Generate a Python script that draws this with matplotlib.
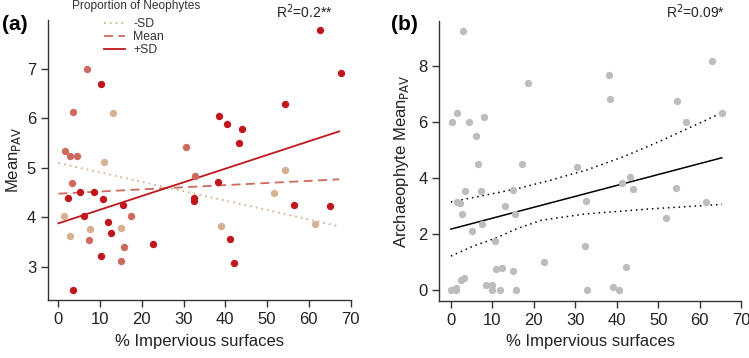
import numpy as np
import matplotlib
matplotlib.use("Agg")
import matplotlib.pyplot as plt

plt.rcParams['font.family'] = ['Liberation Sans', 'DejaVu Sans']

# panel (a): points grouped by neophyte proportion
low_x = [13.2, 11.0, 54.4, 1.3, 7.6, 15.0, 2.8, 39.0, 51.7, 61.4]
low_y = [6.12, 5.11, 4.96, 4.03, 3.76, 3.78, 3.63, 3.82, 4.50, 3.86]
mid_x = [1.6, 2.8, 4.5, 3.6, 6.8, 30.5, 32.8, 3.2, 17.4, 7.4, 15.8, 15.1]
mid_y = [5.34, 5.25, 5.24, 6.14, 7.00, 5.42, 4.83, 4.69, 4.02, 3.55, 3.40, 3.12]
high_x = [10.2, 38.5, 40.5, 44.1, 43.2, 54.2, 62.8, 67.6, 2.25, 5.2, 8.6, 10.8, 15.6,
          6.2, 11.9, 12.5, 22.7, 10.1, 3.6, 32.4, 32.6, 38.2, 41.1, 42.1, 56.5, 65.1]
high_y = [6.70, 6.06, 5.89, 5.78, 5.51, 6.30, 7.78, 6.92, 4.40, 4.51, 4.51, 4.37, 4.25,
          4.03, 3.90, 3.69, 3.47, 3.21, 2.53, 4.33, 4.39, 4.72, 3.56, 3.07, 4.25, 4.24]

# fitted lines (end points)
fit_x = [0, 67.3]
sd_minus = [5.10, 3.82]
sd_mean = [4.48, 4.77]
sd_plus = [3.88, 5.74]
r2_a = "R$^2$=0.2**"

# panel (b)
arch_x = [3.0, 1.4, 0.2, 4.3, 8.0, 6.0, 6.6, 17.2, 18.6, 30.4, 38.2, 38.4, 43.2, 54.4,
          56.7, 62.9, 65.3, 1.4, 2.1, 3.4, 7.3, 14.9, 13.0, 15.4, 2.7, 7.4, 5.0, 10.6,
          32.5, 32.3, 22.5, 10.9, 12.2, 15.0, 3.2, 2.4, 8.4, 9.8, 10.0, 11.8, 15.6, 0.0,
          1.2, 1.3, 41.2, 44.0, 54.2, 61.6, 51.8, 42.1, 39.0, 40.5, 32.7]
arch_y = [9.24, 6.32, 6.00, 6.00, 6.16, 5.49, 4.49, 4.49, 7.39, 4.40, 7.66, 6.83, 4.02, 6.75,
          6.00, 8.16, 6.32, 3.15, 3.10, 3.55, 3.55, 3.59, 3.00, 2.72, 2.72, 2.38, 2.11, 1.75,
          3.17, 1.58, 1.01, 0.75, 0.81, 0.68, 0.43, 0.37, 0.20, 0.20, 0.00, 0.00, 0.00, 0.00,
          0.10, 0.00, 3.81, 3.60, 3.64, 3.14, 2.56, 0.84, 0.13, 0.00, 0.00]
fit_b_x = [0, 65.3]
fit_b_y = [2.18, 4.72]
ci_up_x = [0, 8, 16, 24, 33, 42, 51, 65.3]
ci_up_y = [3.15, 3.38, 3.62, 3.92, 4.30, 4.78, 5.35, 6.32]
ci_lo_x = [0, 5, 10.6, 16, 21.9, 32.4, 48, 65.3]
ci_lo_y = [1.22, 1.55, 1.85, 2.20, 2.50, 2.72, 2.90, 3.06]
r2_b = "R$^2$=0.09*"

c_low = '#D6B192'
c_mid = '#CD6A5E'
c_high = '#C0171D'
txt = '#222222'

fig = plt.figure(figsize=(7.49, 3.58), dpi=100)
ax1 = fig.add_axes([0.064, 0.162, 0.404, 0.782])
ax2 = fig.add_axes([0.5865, 0.160, 0.4032, 0.782])

for ax in (ax1, ax2):
    for s in ('top', 'right'):
        ax.spines[s].set_visible(False)
    for s in ('left', 'bottom'):
        ax.spines[s].set_color('#333333')
        ax.spines[s].set_linewidth(1.0)
    ax.tick_params(direction='out', length=5, width=1.0, colors='#333333',
                   labelsize=12, labelcolor=txt)
    ax.set_xticks(range(0, 71, 10))
    ax.set_xlabel('% Impervious surfaces', fontsize=12, color=txt, labelpad=5)

ms = 5.3
ax1.plot(low_x, low_y, 'o', color=c_low, ms=ms, mec='none', zorder=3)
ax1.plot(mid_x, mid_y, 'o', color=c_mid, ms=ms, mec='none', zorder=3)
ax1.plot(high_x, high_y, 'o', color=c_high, ms=ms, mec='none', zorder=3)
l1, = ax1.plot(fit_x, sd_minus, color=c_low, lw=1.3, linestyle=(0, (1, 2.2)), zorder=2)
l2, = ax1.plot(fit_x, sd_mean, color=c_mid, lw=1.3, linestyle=(0, (5, 3)), zorder=2)
l3, = ax1.plot(fit_x, sd_plus, color=c_high, lw=1.3, zorder=2)
ax1.set_xlim(-2.5, 70)
ax1.set_ylim(2.33, 7.99)
ax1.set_yticks([3, 4, 5, 6, 7])
ax1.set_ylabel('Mean$_{\\mathrm{PAV}}$', fontsize=12, color=txt, labelpad=3)

fig.text(72 / 749, 1 - 6 / 358, 'Proportion of Neophytes', fontsize=8.6,
         color='#333333', va='center', ha='left')
leg = fig.legend([l1, l2, l3], ['-SD', 'Mean', '+SD'],
                 loc='upper left', bbox_to_anchor=(104 / 749, 1 - 18 / 358), frameon=False,
                 fontsize=8.8, handlelength=1.7, labelspacing=0.08, borderpad=0,
                 borderaxespad=0, handletextpad=0.7)
for t in leg.get_texts():
    t.set_color('#333333')
fig.text(276 / 749, 1 - 12 / 358, r2_a, fontsize=10, color=txt, va='center')
fig.text(0.003, 1 - 25 / 358, '(a)', fontsize=15, fontweight='bold', va='center')

ax2.plot(arch_x, arch_y, 'o', color='#BDBDBD', ms=ms, mec='none', zorder=3)
ax2.plot(fit_b_x, fit_b_y, color='black', lw=1.1, zorder=2)
ax2.plot(ci_up_x, ci_up_y, color='black', lw=1.1, linestyle=(0, (1, 2.5)), zorder=2)
ax2.plot(ci_lo_x, ci_lo_y, color='black', lw=1.1, linestyle=(0, (1, 2.5)), zorder=2)
ax2.set_xlim(-2.8, 70)
ax2.set_ylim(-0.37, 9.6)
ax2.set_yticks([0, 2, 4, 6, 8])
ax2.set_ylabel('Archaeophyte Mean$_{\\mathrm{PAV}}$', fontsize=12, color=txt, labelpad=5)
fig.text(666 / 749, 1 - 12 / 358, r2_b, fontsize=10, color=txt, va='center')
fig.text(391 / 749, 1 - 25 / 358, '(b)', fontsize=15, fontweight='bold', va='center')

fig.savefig('out.png', dpi=100)
